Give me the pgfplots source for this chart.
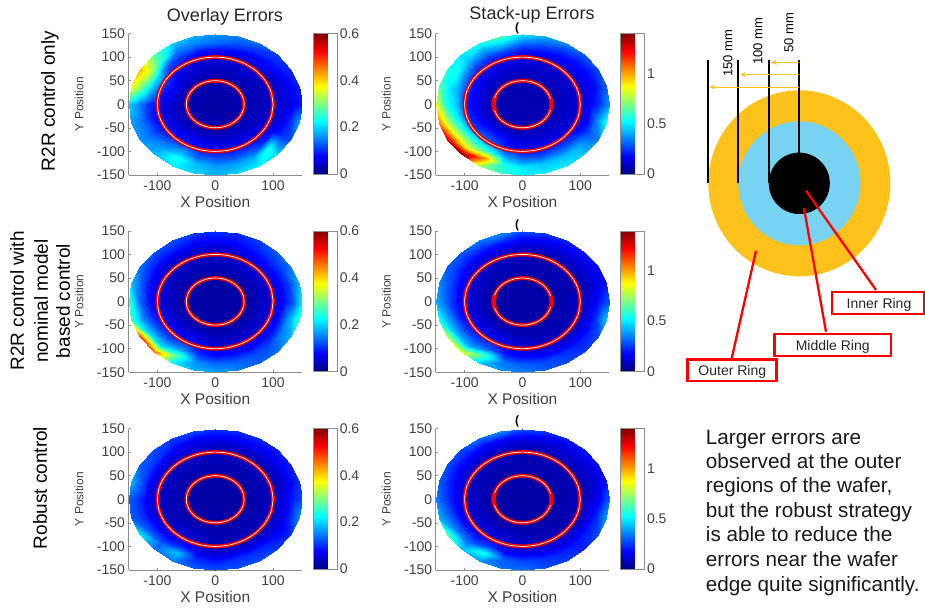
\documentclass[border=0pt]{standalone}
\usepackage{pgfplots}
\usepackage{pgfplotstable}
\usepackage{fontspec}
\setmainfont{Liberation Sans}
\pgfplotsset{compat=1.18}
\usetikzlibrary{arrows.meta}
\definecolor{tickgrey}{HTML}{404040}
\definecolor{axgrey}{HTML}{8C8C8C}
\definecolor{ringorange}{HTML}{FDC11C}
\definecolor{ringblue}{HTML}{78D3F2}
\newcommand{\fs}[1]{\fontsize{#1}{#1}\selectfont}
% r t a=overlay R2R, b=stack R2R, c=overlay nominal, d=stack nominal, e=overlay robust, f=stack robust
\pgfplotstableread{
r t a b c d e f
0 0 .02 .06 .02 .05 .02 .05
60 0 .03 .08 .025 .06 .025 .06
95 0 .04 .11 .05 .09 .035 .07
115 0 .05 .15 .07 .12 .05 .10
132 0 .06 .24 .12 .20 .09 .16
150 0 .09 .38 .22 .30 .12 .30
0 15 .02 .06 .02 .05 .02 .05
60 15 .03 .08 .025 .06 .025 .06
95 15 .04 .11 .05 .07 .035 .07
115 15 .05 .14 .07 .09 .04 .08
132 15 .07 .20 .11 .13 .07 .12
150 15 .09 .30 .18 .19 .10 .19
0 30 .02 .06 .02 .05 .02 .05
60 30 .03 .08 .025 .06 .025 .06
95 30 .04 .11 .05 .07 .035 .07
115 30 .05 .14 .07 .09 .04 .09
132 30 .08 .19 .11 .13 .07 .12
150 30 .10 .28 .14 .19 .09 .19
0 45 .02 .06 .02 .05 .02 .05
60 45 .03 .08 .025 .06 .025 .06
95 45 .05 .11 .05 .07 .035 .07
115 45 .06 .15 .07 .09 .04 .09
132 45 .09 .21 .10 .14 .07 .13
150 45 .11 .30 .13 .20 .09 .20
0 60 .02 .06 .02 .05 .02 .05
60 60 .03 .08 .025 .06 .025 .06
95 60 .05 .12 .05 .07 .035 .07
115 60 .06 .16 .06 .09 .04 .09
132 60 .10 .25 .09 .14 .07 .13
150 60 .14 .36 .11 .22 .10 .22
0 75 .02 .06 .02 .05 .02 .05
60 75 .03 .08 .025 .06 .025 .06
95 75 .05 .12 .04 .07 .035 .07
115 75 .07 .18 .05 .09 .04 .09
132 75 .12 .30 .08 .16 .07 .14
150 75 .15 .42 .10 .25 .10 .25
0 90 .02 .06 .02 .05 .02 .05
60 90 .03 .08 .025 .06 .025 .06
95 90 .05 .13 .04 .08 .035 .07
115 90 .08 .20 .05 .10 .04 .09
132 90 .14 .35 .08 .18 .07 .16
150 90 .16 .50 .10 .28 .10 .28
0 105 .02 .06 .02 .05 .02 .05
60 105 .03 .08 .025 .06 .025 .06
95 105 .05 .14 .04 .09 .035 .08
115 105 .08 .25 .05 .12 .05 .10
132 105 .15 .45 .08 .22 .07 .18
150 105 .18 .65 .11 .38 .12 .38
0 120 .02 .06 .02 .05 .02 .05
60 120 .03 .08 .025 .06 .025 .06
95 120 .06 .15 .04 .09 .04 .08
115 120 .10 .25 .05 .13 .05 .11
132 120 .15 .40 .09 .22 .08 .18
150 120 .20 .55 .12 .35 .11 .33
0 135 .02 .06 .02 .05 .02 .05
60 135 .03 .08 .025 .06 .025 .06
95 135 .07 .16 .04 .10 .04 .08
115 135 .12 .28 .05 .14 .05 .12
132 135 .25 .45 .09 .22 .10 .20
150 135 .28 .50 .12 .30 .12 .28
0 150 .02 .06 .02 .05 .02 .05
60 150 .03 .08 .025 .06 .025 .06
95 150 .10 .18 .04 .11 .04 .09
115 150 .20 .35 .06 .15 .06 .13
132 150 .35 .55 .10 .25 .11 .20
150 150 .42 .55 .14 .30 .13 .28
0 165 .02 .06 .02 .05 .02 .05
60 165 .03 .08 .025 .06 .025 .06
95 165 .09 .20 .05 .12 .04 .10
115 165 .18 .40 .07 .18 .06 .14
132 165 .28 .50 .12 .28 .12 .22
150 165 .38 .65 .19 .36 .18 .30
0 180 .02 .06 .02 .05 .02 .05
60 180 .03 .08 .025 .06 .025 .06
95 180 .06 .20 .05 .12 .04 .10
115 180 .10 .45 .08 .20 .06 .16
132 180 .15 .55 .14 .30 .10 .25
150 180 .20 .85 .26 .42 .13 .35
0 195 .02 .06 .02 .05 .02 .05
60 195 .03 .08 .025 .06 .025 .06
95 195 .06 .22 .06 .13 .04 .11
115 195 .09 .50 .10 .22 .06 .18
132 195 .14 .70 .16 .38 .10 .30
150 195 .17 1.05 .26 .55 .13 .42
0 210 .02 .06 .02 .05 .02 .05
60 210 .03 .08 .025 .06 .025 .06
95 210 .07 .25 .07 .15 .04 .12
115 210 .10 .55 .12 .25 .07 .20
132 210 .14 .85 .20 .42 .12 .35
150 210 .16 1.30 .50 .78 .22 .65
0 225 .02 .06 .02 .05 .02 .05
60 225 .03 .08 .025 .06 .025 .06
95 225 .08 .30 .07 .16 .05 .13
115 225 .14 .60 .13 .28 .08 .22
132 225 .17 .85 .21 .42 .13 .33
150 225 .18 1.40 .47 .85 .14 .45
0 240 .02 .06 .02 .05 .02 .05
60 240 .03 .08 .025 .06 .025 .06
95 240 .09 .28 .08 .17 .05 .14
115 240 .17 .55 .16 .30 .09 .25
132 240 .24 1.05 .27 .62 .19 .55
150 240 .22 .75 .22 .45 .15 .38
0 255 .02 .06 .02 .05 .02 .05
60 255 .03 .08 .025 .06 .025 .06
95 255 .08 .20 .06 .13 .04 .12
115 255 .13 .40 .10 .20 .06 .17
132 255 .19 .55 .16 .33 .10 .30
150 255 .20 .60 .18 .38 .13 .33
0 270 .02 .06 .02 .05 .02 .05
60 270 .03 .08 .025 .06 .025 .06
95 270 .07 .17 .05 .11 .035 .10
115 270 .12 .30 .08 .17 .05 .15
132 270 .17 .50 .14 .30 .09 .28
150 270 .18 .52 .17 .35 .12 .33
0 285 .02 .06 .02 .05 .02 .05
60 285 .03 .08 .025 .06 .025 .06
95 285 .07 .16 .05 .10 .035 .09
115 285 .12 .30 .08 .15 .05 .14
132 285 .17 .45 .13 .27 .10 .24
150 285 .20 .50 .15 .30 .12 .28
0 300 .02 .06 .02 .05 .02 .05
60 300 .03 .08 .025 .06 .025 .06
95 300 .07 .15 .05 .09 .035 .08
115 300 .12 .30 .08 .14 .05 .13
132 300 .18 .45 .12 .25 .10 .22
150 300 .22 .50 .13 .28 .12 .26
0 315 .02 .06 .02 .05 .02 .05
60 315 .03 .08 .025 .06 .025 .06
95 315 .06 .14 .05 .08 .035 .07
115 315 .10 .28 .08 .12 .05 .12
132 315 .24 .42 .12 .22 .09 .20
150 315 .20 .45 .14 .25 .11 .22
0 330 .02 .06 .02 .05 .02 .05
60 330 .03 .08 .025 .06 .025 .06
95 330 .05 .12 .05 .08 .035 .07
115 330 .07 .20 .08 .13 .05 .12
132 330 .10 .30 .15 .22 .07 .22
150 330 .12 .35 .18 .28 .10 .28
0 345 .02 .06 .02 .05 .02 .05
60 345 .03 .08 .025 .06 .025 .06
95 345 .04 .11 .05 .08 .035 .07
115 345 .05 .15 .08 .13 .05 .12
132 345 .09 .35 .17 .25 .09 .22
150 345 .17 .55 .26 .45 .16 .40
0 360 .02 .06 .02 .05 .02 .05
60 360 .03 .08 .025 .06 .025 .06
95 360 .04 .11 .05 .09 .035 .07
115 360 .05 .15 .07 .12 .05 .10
132 360 .06 .24 .12 .20 .09 .16
150 360 .09 .38 .22 .30 .12 .30
}\wafer
\pgfplotstableread{
x y
100 0
96.6 25.9
86.6 50
70.7 70.7
50 86.6
25.9 96.6
0 100
-25.9 96.6
-50 86.6
-70.7 70.7
-86.6 50
-96.6 25.9
-100 0
-96.6 -25.9
-86.6 -50
-70.7 -70.7
-50 -86.6
-25.9 -96.6
0 -100
25.9 -96.6
50 -86.6
70.7 -70.7
86.6 -50
96.6 -25.9
100 0
}\ringL
\pgfplotstableread{
x y
50 0
48.3 12.9
43.3 25
35.4 35.4
25 43.3
12.9 48.3
0 50
-12.9 48.3
-25 43.3
-35.4 35.4
-43.3 25
-48.3 12.9
-50 0
-48.3 -12.9
-43.3 -25
-35.4 -35.4
-25 -43.3
-12.9 -48.3
0 -50
12.9 -48.3
25 -43.3
35.4 -35.4
43.3 -25
48.3 -12.9
50 0
}\ringS
\pgfplotsset{
  panel/.style={
    scale only axis, width=173.5pt, height=141.5pt,
    anchor=south west,
    xmin=-150, xmax=150, ymin=-150, ymax=150,
    xtick={-100,0,100}, ytick={-150,-100,-50,0,50,100,150},
    axis x line*=bottom, axis y line*=left,
    axis line style={draw=axgrey, line width=.9pt, -},
    tick style={draw=axgrey, line width=.6pt},
    tick align=inside, major tick length=2pt,
    /pgf/number format/assume math mode=true,
    tick label style={font=\fs{14}, text=tickgrey},
    xticklabel style={yshift=-2pt},
    xlabel={X Position}, ylabel={Y Position},
    xlabel style={font=\fs{15.5}, text=tickgrey, at={(axis description cs:0.5,-0.19)}, anchor=center},
    ylabel style={font=\fs{12}, text=tickgrey, at={(axis description cs:-0.285,0.5)}, anchor=center, rotate=0},
    colormap/jet, point meta min=0,
    colorbar,
    colorbar style={
      at={(1.065,1)}, anchor=north west,
      width=24pt, height=140.5pt,
      axis line style={draw=axgrey, line width=.6pt},
      tick style={draw=none},
      /pgf/number format/assume math mode=true,
      yticklabel style={font=\fs{14}, text=tickgrey, xshift=-1pt},
    },
  },
  overlaypanel/.style={panel, point meta max=0.6, colorbar style={ytick={0,0.2,0.4,0.6}, yticklabels={0,0.2,0.4,0.6}}},
  stackpanel/.style={panel, point meta max=1.4, colorbar style={ytick={0,0.5,1}, yticklabels={0,0.5,1}}},
}
\newcommand{\waferplot}[1]{%
  \addplot[surf, shader=interp, mesh/cols=6, point meta=explicit] table[x expr=\thisrow{r}*cos(\thisrow{t}), y expr=\thisrow{r}*sin(\thisrow{t}), meta=#1] {\wafer};
  \addplot[no marks, draw=red!90!black, line width=4pt, smooth] table {\ringL};
  \addplot[no marks, draw=white, line width=.7pt, smooth] table {\ringL};
  \addplot[no marks, draw=red!90!black, line width=4pt, smooth] table {\ringS};
  \addplot[no marks, draw=white, line width=.7pt, smooth] table {\ringS};
}
\newcommand{\stackmarks}{%
  \addplot[no marks, draw=red, line width=4.5pt] coordinates {(-48.3,-13) (-50,0) (-48.3,13)};
  \addplot[no marks, draw=red, line width=3.5pt] coordinates {(49,-12) (50,0) (49,12)};
}
\begin{document}
\begin{tikzpicture}[x=1pt,y=-1pt]
\path[use as bounding box] (0,0) rectangle (925,608);
\begin{axis}[overlaypanel, at={(128.5pt,-175pt)}]\waferplot{a}\end{axis}
\begin{axis}[stackpanel, at={(435.7pt,-175pt)}]\waferplot{b}\stackmarks\end{axis}
\begin{axis}[overlaypanel, at={(128.5pt,-372.3pt)}]\waferplot{c}\end{axis}
\begin{axis}[stackpanel, at={(435.7pt,-372.3pt)}]\waferplot{d}\stackmarks\end{axis}
\begin{axis}[overlaypanel, at={(128.5pt,-570pt)}]\waferplot{e}\end{axis}
\begin{axis}[stackpanel, at={(435.7pt,-570pt)}]\waferplot{f}\stackmarks\end{axis}
% titles
\node[font=\fs{18}, text=black!85] at (225,17) {Overlay Errors};
\node[font=\fs{18}, text=black!85] at (532,15) {Stack-up Errors};
\node[font=\fs{19}, rotate=90] at (50,101) {R2R control only};
\node[font=\fs{19}, rotate=90] at (17,301) {R2R control with};
\node[font=\fs{19}, rotate=90] at (41,301) {nominal model};
\node[font=\fs{19}, rotate=90] at (63,301) {based control};
\node[font=\fs{19}, rotate=90] at (40,488) {Robust control};
\node[font=\bfseries\fs{12}] at (517,28) {(};
\node[font=\bfseries\fs{12}] at (517,225) {(};
\node[font=\bfseries\fs{12}] at (517,421) {(};
% wafer diagram
\fill[ringorange] (799.3,183.3) ellipse [x radius=91, y radius=93];
\fill[ringblue] (799.3,183.3) ellipse [x radius=61, y radius=62];
\fill[black] (799.3,183.3) ellipse [x radius=30.5, y radius=30.7];
\foreach \x/\yy in {708/183,738.3/183,769/183,799.3/153}
  \draw[black, line width=2pt] (\x,60) -- (\x,\yy);
\foreach \y/\xe in {62.3/770.7,74.7/740,87/709.3}
  \draw[ringorange, line width=1pt, -{Stealth[length=6pt,width=5pt]}] (799,\y) -- (\xe,\y);
\node[font=\fs{13}, rotate=90] at (728,53) {150 mm};
\node[font=\fs{13}, rotate=90] at (758,41) {100 mm};
\node[font=\fs{13}, rotate=90] at (789,33) {50 mm};
\draw[red, line width=2.3pt] (806,190.7) -- (876,290);
\draw[red, line width=2.3pt] (804,208.3) -- (826,331.7);
\draw[red, line width=2.3pt] (756,250.7) -- (731.7,358.3);
\draw[red, line width=2.5pt, fill=white] (832,292) rectangle (924,314);
\draw[red, line width=2.5pt, fill=white] (774.5,334) rectangle (891,356);
\draw[red, line width=2.5pt, fill=white] (687.5,359.5) rectangle (776.5,381);
\node[font=\fs{14}, text=black!85] at (879,305) {Inner Ring};
\node[font=\fs{14}, text=black!85] at (832.7,347) {Middle Ring};
\node[font=\fs{14}, text=black!85] at (732.3,372) {Outer Ring};
% paragraph
\foreach \yy/\t in {444.3/Larger errors are,468.7/observed at the outer,492.7/{regions of the wafer,},517.3/but the robust strategy,541.7/is able to reduce the,566.7/errors near the wafer,591/edge quite significantly.}
  \node[font=\fs{20.7}, anchor=base west, inner sep=0pt, text=black!90] at (705.7,\yy) {\t};
\end{tikzpicture}
\end{document}
